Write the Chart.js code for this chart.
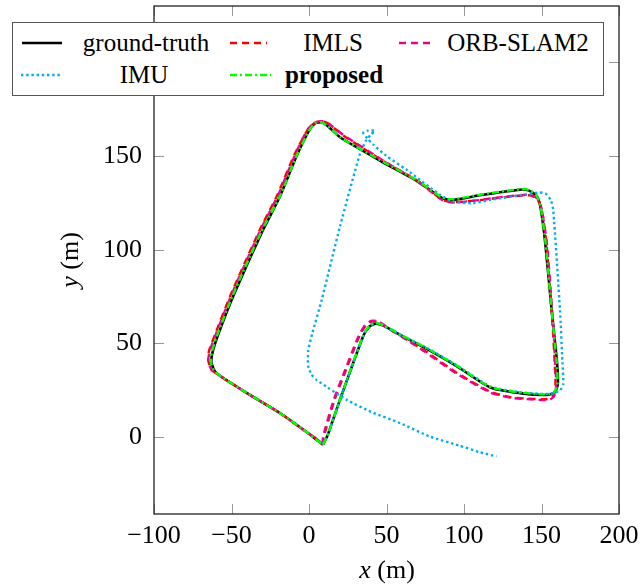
<!DOCTYPE html>
<html>
<head>
<meta charset="utf-8">
<script src="https://cdn.jsdelivr.net/npm/chart.js@4.4.1/dist/chart.umd.min.js"></script>
<style>
  body { margin: 0; background: #fff; }
  #wrap { position: relative; width: 641px; height: 586px; font-family: "Liberation Serif", serif; color: #000; }
  #legend { position: absolute; left: 12px; top: 22px; width: 590px; height: 72px; background: #fff; border: 1.3px solid #555; }
  .lg-text { position: absolute; font-size: 25px; line-height: 32px; white-space: nowrap; transform: translateX(-50%); }
  .lg-line { position: absolute; height: 8px; }
  .axt { position: absolute; font-size: 26px; line-height: 32px; text-align: center; white-space: nowrap; }
</style>
</head>
<body>
<div id="wrap">
  <canvas id="trajChart"></canvas>
  <div id="legend"></div>
  <div class="axt" style="left:327px;top:554px;width:120px;"><i>x</i> (m)</div>
  <div class="axt" style="left:10px;top:244px;width:120px;transform:rotate(-90deg);"><i>y</i> (m)</div>
</div>
<script>
// tick labels
const xTicks = [-100, -50, 0, 50, 100, 150, 200];
const yTicks = [0, 50, 100, 150, 200];

// ground-truth trajectory
const gtX = [9, 12, 20, 35, 39, 43, 48, 60, 74, 95, 117, 136, 152, 158, 160.5, 160, 156.5, 152.5, 149.5, 147, 142, 136, 110, 93, 86, 70, 48, 20, 12, 8, 4, 0, -8, -19, -30, -49, -58, -62, -63, -61, -57, -40, -19, -2, 5, 9];
const gtY = [-4, 1, 20, 54, 59, 60.5, 59.5, 54, 48, 38, 26.5, 23.5, 22.5, 23.5, 28, 40, 68, 103, 122, 128.5, 131.5, 132, 129, 126.6, 127.5, 136.5, 146.5, 160, 166, 168, 167.5, 163.5, 150, 128, 110, 75, 56, 46, 40, 35.5, 32.5, 23.5, 13, 3, -1.5, -4];

// IMLS
const imlsX = [9, 9.5, 16.5, 22.5, 32.5, 36.5, 40, 44, 50, 74, 95, 117, 130, 140.5, 150, 155, 158, 159, 158.5, 157.2, 153.2, 150, 147, 142.5, 127.5, 110, 93, 86, 70, 48, 22, 13, 9, 4, -1, -9.5, -20.5, -31.5, -50.5, -60.5, -64.5, -65, -63, -59, -41, -20, -3, 5, 9];
const imlsY = [-4, 0, 20, 33, 54, 59.5, 61.5, 61.5, 58.5, 46.5, 34.5, 24.2, 21.3, 20.6, 20.2, 20.5, 22.8, 28, 40, 59, 103, 122, 127.3, 129, 128.2, 126.4, 125.4, 126.7, 136.8, 147.2, 161, 167, 168.3, 167.8, 163.8, 150.5, 129, 111, 76, 55, 46, 41, 36, 33.5, 24, 13.5, 3.5, -1, -4];

// ORB-SLAM2
const orbX = [9, 9, 16, 22, 32, 36, 40, 44, 50, 74, 95, 117, 130, 140.5, 150, 155.5, 158.5, 159.5, 158.8, 157.6, 153.5, 150, 147, 142.5, 127.5, 110, 93, 86, 70, 48, 22, 13, 9, 4, -1, -9, -20, -31, -50, -60, -64, -65, -63, -59, -41, -20, -3, 5, 9];
const orbY = [-4, 0, 20, 33, 54, 59.5, 62, 62, 59, 46, 34, 23.8, 21, 20.3, 19.8, 20, 22.5, 28, 40, 59, 103, 122, 127.5, 129.3, 128.4, 126.5, 125.2, 126.5, 136.5, 147.5, 161.3, 167, 168.5, 168, 164, 150.5, 129, 111, 76, 55, 46, 41, 36, 33.5, 24, 13.5, 3.5, -1, -4];

// IMU
const imuX = [9, 12, 20, 35, 39, 43, 48, 60, 74, 95, 117, 136, 152, 158, 162, 164, 163.5, 161.9, 157.6, 156, 152.5, 148, 140, 117, 106, 93, 85, 63, 50, 41.5, 37.5, 35, 38, 42.5, 40, 37, 33, 20, 8.2, 2, -0.5, -0.5, 1.5, 5, 12, 24.3, 40, 58.7, 78, 97, 110, 121];
const imuY = [-4, 1, 20, 54, 59.5, 61, 59.5, 54, 48.5, 38.5, 27, 24, 23, 23.5, 25, 28, 40, 68, 121, 126.5, 130, 130.5, 129.5, 126.6, 124.8, 125.7, 129, 142.6, 150, 156, 159.5, 162.5, 163.5, 163.5, 161.5, 158.5, 151.5, 112.4, 73.2, 55, 46, 38, 33.5, 30.5, 26.5, 19.9, 13.5, 7.5, 0.3, -4.5, -8, -10.3];

// proposed
const propX = [9, 12, 20, 35, 39, 43, 48, 60, 74, 95, 117, 136, 152, 158, 160.3, 159.8, 156.5, 152.7, 149.6, 147, 142, 136, 110, 93, 86, 70, 48, 20, 12, 8, 4, 0, -8, -19, -30.5, -49.5, -58.5, -62.5, -63.3, -61.2, -57, -40, -19, -2, 5, 9];
const propY = [-4, 1, 20, 54.3, 59.3, 60.8, 59.8, 54.3, 48.3, 38.3, 26.7, 23.8, 22.8, 23.8, 28, 40, 68, 103, 122, 128.7, 131.8, 132.3, 129.3, 126.9, 127.8, 136.8, 146.8, 160, 166, 168, 167.5, 163.5, 150, 128, 110, 75, 56, 46, 40, 35.5, 32.5, 23.5, 13, 3, -1.5, -4];

const seriesNames = ['ground-truth', 'IMLS', 'ORB-SLAM2', 'IMU', 'proposed'];

function pts(xs, ys) {
    return xs.map((x, i) => ({ x: x, y: ys[i] }));
}

const fmt = v => (v < 0 ? '\u2212' + Math.abs(v) : String(v));

const styles = [
    { color: '#000000', width: 2.6, dash: [] },
    { color: '#ff0000', width: 2.4, dash: [7, 5] },
    { color: '#ec008c', width: 2.4, dash: [7, 5] },
    { color: '#00aeef', width: 2.4, dash: [2.4, 2.8] },
    { color: '#00ff00', width: 2.4, dash: [7, 3, 2, 3] }
];
const seriesData = [pts(gtX, gtY), pts(imlsX, imlsY), pts(orbX, orbY), pts(imuX, imuY), pts(propX, propY)];

const datasets = seriesNames.map((name, i) => ({
    label: name,
    data: seriesData[i],
    showLine: true,
    borderColor: styles[i].color,
    borderWidth: styles[i].width,
    borderDash: styles[i].dash,
    pointRadius: 0,
    tension: 0.2,
    fill: false,
    order: 5 - i
}));

// box frame with ticks pointing inwards on all four sides
const framePlugin = {
    id: 'frame',
    afterDatasetsDraw(chart) {
        const { ctx, chartArea: a, scales } = chart;
        ctx.save();
        ctx.strokeStyle = '#999';
        ctx.lineWidth = 1;
        ctx.setLineDash([]);
        ctx.beginPath();
        scales.x.ticks.forEach(t => {
            const px = Math.round(scales.x.getPixelForValue(t.value)) + 0.5;
            ctx.moveTo(px, a.bottom); ctx.lineTo(px, a.bottom - 10);
            ctx.moveTo(px, a.top); ctx.lineTo(px, a.top + 10);
        });
        scales.y.ticks.forEach(t => {
            const py = Math.round(scales.y.getPixelForValue(t.value)) + 0.5;
            ctx.moveTo(a.left, py); ctx.lineTo(a.left + 10, py);
            ctx.moveTo(a.right, py); ctx.lineTo(a.right - 10, py);
        });
        ctx.stroke();
        ctx.strokeStyle = '#222';
        ctx.lineWidth = 1.3;
        ctx.strokeRect(a.left, a.top, a.right - a.left, a.bottom - a.top);
        ctx.restore();
    }
};

const tickFont = { family: 'Liberation Serif', size: 26 };

new Chart(document.getElementById('trajChart').getContext('2d'), {
    type: 'scatter',
    data: { datasets: datasets },
    options: {
        responsive: true,
        maintainAspectRatio: false,
        animation: false,
        layout: { padding: { top: 6, right: 22, left: 0, bottom: 0 } },
        plugins: { legend: { display: false }, tooltip: { enabled: false } },
        scales: {
            x: {
                type: 'linear',
                min: -100,
                max: 200,
                grid: { display: false, drawTicks: false },
                border: { display: false },
                afterBuildTicks: s => { s.ticks = xTicks.map(v => ({ value: v })); },
                afterFit: s => { s.height = 72; s.paddingLeft = 0; s.paddingRight = 0; },
                ticks: { font: tickFont, color: '#000', padding: 7, maxRotation: 0, autoSkip: false, callback: fmt }
            },
            y: {
                type: 'linear',
                min: -41,
                max: 230,
                grid: { display: false, drawTicks: false },
                border: { display: false },
                afterBuildTicks: s => { s.ticks = yTicks.map(v => ({ value: v })); },
                afterFit: s => { s.width = 154; s.paddingTop = 0; s.paddingBottom = 0; },
                ticks: { font: tickFont, color: '#000', padding: 12, autoSkip: false, callback: fmt }
            }
        }
    },
    plugins: [framePlugin]
});

// legend box drawn as html over the plot
const legendSlots = [
    { row: 0, sx: 9, sw: 40, tc: 133 },
    { row: 0, sx: 217, sw: 37, tc: 320 },
    { row: 0, sx: 386, sw: 34, tc: 505 },
    { row: 1, sx: 8, sw: 41, tc: 131 },
    { row: 1, sx: 217, sw: 41, tc: 321 }
];
const legendBox = document.getElementById('legend');
legendSlots.forEach((slot, i) => {
    const cy = slot.row === 0 ? 20 : 52;
    const st = styles[i];
    const svg = document.createElementNS('http://www.w3.org/2000/svg', 'svg');
    svg.setAttribute('class', 'lg-line');
    svg.setAttribute('width', slot.sw);
    svg.setAttribute('height', 8);
    svg.style.left = slot.sx + 'px';
    svg.style.top = (cy - 4) + 'px';
    const ln = document.createElementNS('http://www.w3.org/2000/svg', 'line');
    ln.setAttribute('x1', 0); ln.setAttribute('x2', slot.sw);
    ln.setAttribute('y1', 4); ln.setAttribute('y2', 4);
    ln.setAttribute('stroke', st.color);
    ln.setAttribute('stroke-width', st.width);
    if (st.dash.length) ln.setAttribute('stroke-dasharray', st.dash.join(' '));
    svg.appendChild(ln);
    legendBox.appendChild(svg);

    const tx = document.createElement('div');
    tx.className = 'lg-text';
    tx.textContent = seriesNames[i];
    tx.style.left = slot.tc + 'px';
    tx.style.top = (cy - 16) + 'px';
    if (seriesNames[i] === 'proposed') tx.style.fontWeight = 'bold';
    legendBox.appendChild(tx);
});
</script>
</body>
</html>
